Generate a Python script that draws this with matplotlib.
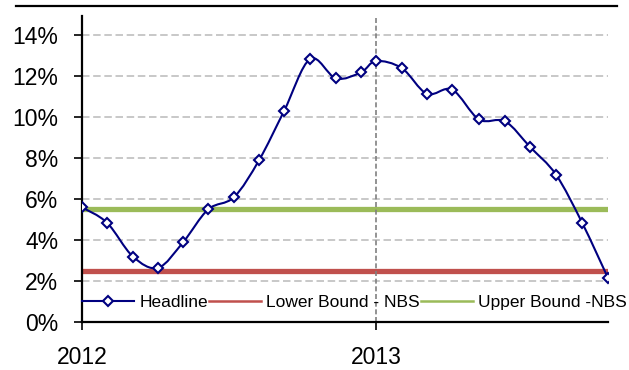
import matplotlib
import matplotlib.pyplot as plt
import numpy as np
from matplotlib.lines import Line2D
from matplotlib.path import Path
from matplotlib.patches import PathPatch

matplotlib.use("Agg")

plt.rcParams["font.family"] = ["Liberation Sans", "DejaVu Sans"]

# observation dates as fractional years
dates = [2012.000, 2012.085, 2012.173, 2012.259, 2012.344, 2012.429, 2012.517,
         2012.602, 2012.687, 2012.776, 2012.864, 2012.949, 2013.000, 2013.088,
         2013.173, 2013.259, 2013.350, 2013.439, 2013.524, 2013.612, 2013.701,
         2013.789]
headline = [5.6, 4.85, 3.2, 2.65, 3.9, 5.5, 6.1, 7.9, 10.3, 12.85, 11.9, 12.2,
            12.75, 12.4, 11.15, 11.35, 9.9, 9.8, 8.55, 7.2, 4.85, 2.15]
lower_bound = 2.5
upper_bound = 5.5
year_ticks = [2012, 2013]
year_labels = ["2012", "2013"]
pct_ticks = [0, 2, 4, 6, 8, 10, 12, 14]

NAVY = "#000080"
RED = "#C0504D"
GREEN = "#9BBB59"


def smooth_path(xs, ys):
    # Excel-style smoothed line: cubic Bezier through each point
    pts = np.column_stack([xs, ys])
    n = len(pts)
    verts = [pts[0]]
    codes = [Path.MOVETO]
    for i in range(n - 1):
        p0 = pts[i - 1] if i > 0 else pts[i]
        p1 = pts[i]
        p2 = pts[i + 1]
        p3 = pts[i + 2] if i + 2 < n else pts[i + 1]
        verts += [p1 + (p2 - p0) / 6, p2 - (p3 - p1) / 6, p2]
        codes += [Path.CURVE4] * 3
    return Path(verts, codes)


fig = plt.figure(figsize=(6.29, 3.70), dpi=100)
ax = fig.add_axes([82 / 629, 1 - 322 / 370, (608 - 82) / 629, (322 - 16) / 370])

# horizontal grid
for y in pct_ticks[1:]:
    ax.axhline(y, color="#BFBFBF", lw=1.2, ls=(0, (4.5, 2.2)), zorder=1)

# bounds
ax.plot([dates[0], dates[-1]], [lower_bound] * 2, color=RED, lw=3.8,
        solid_capstyle="butt", zorder=2)
ax.plot([dates[0], dates[-1]], [upper_bound] * 2, color=GREEN, lw=3.8,
        solid_capstyle="butt", zorder=2)

# year divider
ax.axvline(year_ticks[1], color="#808080", lw=1.2, ls=(0, (3, 1.6)), zorder=2)

# headline series
ax.add_patch(PathPatch(smooth_path(dates, headline), facecolor="none",
                       edgecolor=NAVY, lw=1.5, zorder=3))
ax.plot(dates, headline, ls="none", marker="D", ms=5.5, mfc="white", mec=NAVY,
        mew=1.5, zorder=4)

ax.set_xlim(dates[0], dates[-1])
ax.set_ylim(0, 14.95)
ax.set_yticks(pct_ticks)
ax.set_yticklabels([f"{v}%" for v in pct_ticks])
ax.set_xticks(year_ticks)
ax.set_xticklabels(year_labels)

for side in ["top", "right"]:
    ax.spines[side].set_visible(False)
for side in ["left", "bottom"]:
    ax.spines[side].set_linewidth(1.6)
    ax.spines[side].set_color("black")

ax.tick_params(axis="y", length=6, width=1.2, pad=11, labelsize=16.5, direction="out")
ax.tick_params(axis="x", length=6, width=1.2, pad=11, labelsize=16.5, direction="out")
ax.get_xticklines()[2].set_color("#808080")

handles = [
    Line2D([], [], color=NAVY, lw=1.5, marker="D", ms=5.5, mfc="white", mec=NAVY, mew=1.5),
    Line2D([], [], color=RED, lw=1.8),
    Line2D([], [], color=GREEN, lw=1.8),
]
ax.legend(handles, ["Headline", "Lower Bound - NBS", "Upper Bound -NBS"],
          loc="center left", bbox_to_anchor=(0.0, 0.063), ncol=3, frameon=False,
          fontsize=12.5, handlelength=3.0, handletextpad=0.3, columnspacing=0.05,
          borderpad=0, borderaxespad=0)

# thin rule across the top of the figure
fig.add_artist(Line2D([16 / 629, 617 / 629], [1 - 6 / 370] * 2, color="black", lw=1.6))

fig.savefig("out.png", dpi=100)
plt.close(fig)
